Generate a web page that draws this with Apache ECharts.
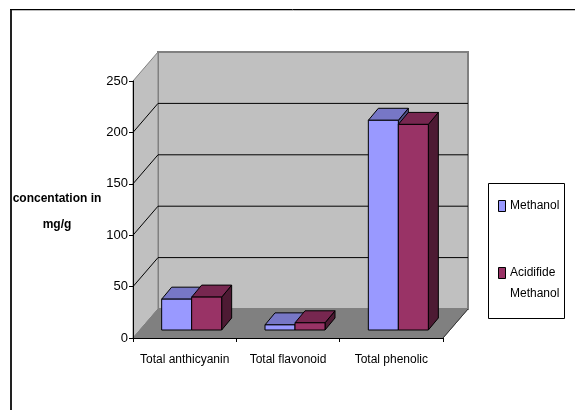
<!DOCTYPE html>
<html>
<head>
<meta charset="utf-8">
<style>
  html, body {margin: 0; padding: 0; background: #fff}
  #chart {width: 575px; height: 410px}
</style>
<script src="https://cdn.jsdelivr.net/npm/echarts@6/dist/echarts.min.js"></script>
</head>
<body>
<div id="chart"></div>
<script>
var categories = ['Total anthicyanin', 'Total flavonoid', 'Total phenolic']
var methanol = [30, 5, 204]
var acidified = [32, 7, 200]
var yTicks = [0, 50, 100, 150, 200, 250]

var fontName = '"Liberation Sans", Arial, sans-serif'
var wallDepth = [25, -29]   // 3d offset of the back wall
var barDepth = [10, -12]    // 3d offset of a bar
var barShift = [7, -8]      // bars stand in the middle of the floor
var barWidth = 30

function poly (points, fill, stroke, width) {
  return {
    type: 'polygon',
    shape: {points: points},
    style: {fill: fill, stroke: stroke, lineWidth: width === undefined ? 1 : width}
  }
}

function line (a, b, color, width) {
  return {
    type: 'line',
    shape: {x1: a[0], y1: a[1], x2: b[0], y2: b[1]},
    style: {stroke: color, lineWidth: width || 1}
  }
}

// side wall, back wall, floor and the grid lines on them
function renderWalls (params, api) {
  var rect = params.coordSys
  var dx = wallDepth[0]
  var dy = wallDepth[1]
  var l = rect.x
  var r = rect.x + rect.width
  var t = rect.y
  var b = rect.y + rect.height
  var kids = [
    poly([[l + dx, t + dy], [r + dx, t + dy], [r + dx, b + dy], [l + dx, b + dy]], '#c0c0c0', '#808080', 2),
    poly([[l, t], [l + dx, t + dy], [l + dx, b + dy], [l, b]], '#c0c0c0', '#808080', 1),
    poly([[l, b], [l + dx, b + dy], [r + dx, b + dy], [r, b]], '#808080', '#808080', 1)
  ]
  yTicks.slice(1, -1).forEach(function (v) {
    var y = api.coord([0, v])[1]
    kids.push(line([l, y], [l + dx, y + dy], '#000'))
    kids.push(line([l + dx, y + dy], [r + dx, y + dy], '#000'))
  })
  kids.push(line([r, b], [r + dx, b + dy], '#333'))
  return {type: 'group', silent: true, children: kids}
}

function makeBar (seriesIndex, front, top, side) {
  return function (params, api) {
    var c = api.coord([api.value(0), api.value(1)])
    var base = api.coord([api.value(0), 0])
    var x0 = c[0] + barShift[0] + (seriesIndex - 1) * barWidth
    var x1 = x0 + barWidth
    var yTop = c[1] + barShift[1]
    var yBase = base[1] + barShift[1]
    var dx = barDepth[0]
    var dy = barDepth[1]
    return {
      type: 'group',
      children: [
        poly([[x1, yTop], [x1 + dx, yTop + dy], [x1 + dx, yBase + dy], [x1, yBase]], side, '#000'),
        poly([[x0, yTop], [x0 + dx, yTop + dy], [x1 + dx, yTop + dy], [x1, yTop]], top, '#000'),
        poly([[x0, yTop], [x1, yTop], [x1, yBase], [x0, yBase]], front, '#000')
      ]
    }
  }
}

var chart = echarts.init(document.getElementById('chart'), null, {renderer: 'canvas'})

chart.setOption({
  animation: false,
  backgroundColor: '#fff',
  textStyle: {fontFamily: fontName},
  grid: {left: 133, top: 81, width: 310, height: 257, outerBoundsMode: 'none', containLabel: false},
  xAxis: {
    type: 'category',
    data: categories,
    z: 10,
    axisLine: {lineStyle: {color: '#000', width: 1}},
    axisTick: {show: true, alignWithLabel: false, length: 4, lineStyle: {color: '#000'}},
    axisLabel: {color: '#000', fontSize: 12, fontFamily: fontName, margin: 16, interval: 0},
    splitLine: {show: false}
  },
  yAxis: {
    type: 'value',
    min: 0,
    max: 250,
    interval: 50,
    z: 10,
    axisLine: {show: true, lineStyle: {color: '#000', width: 1}},
    axisTick: {show: true, length: 4, lineStyle: {color: '#000'}},
    axisLabel: {color: '#000', fontSize: 13, fontFamily: fontName, margin: 5},
    splitLine: {show: false}
  },
  series: [
    {
      type: 'custom',
      name: 'walls',
      z: 1,
      silent: true,
      clip: false,
      renderItem: renderWalls,
      data: [[0, 0]]
    },
    {
      type: 'custom',
      name: 'Methanol',
      z: 3,
      clip: false,
      renderItem: makeBar(0, '#9999ff', '#7777c6', '#4f4f85'),
      encode: {x: 0, y: 1},
      data: categories.map(function (c, i) { return [i, methanol[i]] })
    },
    {
      type: 'custom',
      name: 'Acidifide Methanol',
      z: 4,
      clip: false,
      renderItem: makeBar(1, '#993366', '#772750', '#4d1a33'),
      encode: {x: 0, y: 1},
      data: categories.map(function (c, i) { return [i, acidified[i]] })
    }
  ],
  graphic: [
    // page frame
    {type: 'line', shape: {x1: 11, y1: 410, x2: 11, y2: 9}, style: {stroke: '#222', lineWidth: 2}},
    {type: 'line', shape: {x1: 10, y1: 9.5, x2: 575, y2: 9.5}, style: {stroke: '#000', lineWidth: 1}},
    {type: 'line', shape: {x1: 12, y1: 10.5, x2: 575, y2: 10.5}, style: {stroke: '#bbb', lineWidth: 1}},
    // y axis title, sits a little below the axis middle
    {type: 'text', x: 57, y: 199, style: {text: 'concentation in', fill: '#000', font: 'bold 12px ' + fontName, textAlign: 'center', textVerticalAlign: 'middle'}},
    {type: 'text', x: 57, y: 225, style: {text: 'mg/g', fill: '#000', font: 'bold 12px ' + fontName, textAlign: 'center', textVerticalAlign: 'middle'}},
    // legend
    {type: 'rect', shape: {x: 488.5, y: 183.5, width: 76, height: 135}, style: {fill: '#fff', stroke: '#000', lineWidth: 1}},
    {type: 'rect', shape: {x: 498.5, y: 200.5, width: 7, height: 11}, style: {fill: '#9999ff', stroke: '#000', lineWidth: 1}},
    {type: 'rect', shape: {x: 498.5, y: 267.5, width: 7, height: 11}, style: {fill: '#993366', stroke: '#000', lineWidth: 1}},
    {type: 'text', x: 510, y: 205.5, style: {text: 'Methanol', fill: '#000', font: '12px ' + fontName, textVerticalAlign: 'middle'}},
    {type: 'text', x: 510, y: 273, style: {text: 'Acidifide', fill: '#000', font: '12px ' + fontName, textVerticalAlign: 'middle'}},
    {type: 'text', x: 510, y: 294, style: {text: 'Methanol', fill: '#000', font: '12px ' + fontName, textVerticalAlign: 'middle'}}
  ]
})
</script>
</body>
</html>
